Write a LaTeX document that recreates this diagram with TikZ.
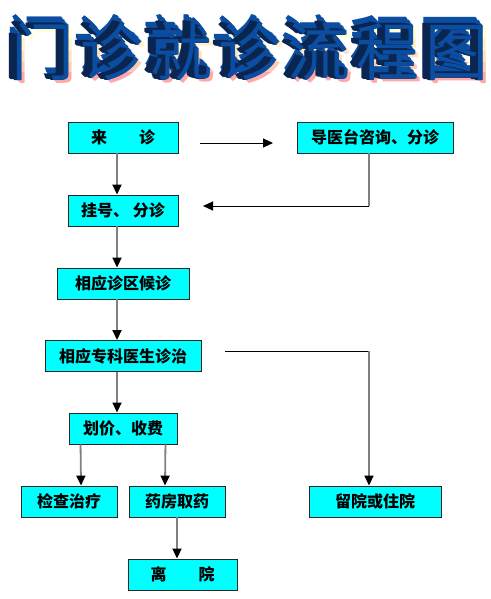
\documentclass[tikz,border=0pt]{standalone}
\usepackage{fontspec}
\newfontfamily\cjk{Noto Sans CJK SC}
\usetikzlibrary{arrows.meta}
\definecolor{boxcyan}{HTML}{00FFFF}
\definecolor{tblue}{HTML}{0B4DA0}
\definecolor{tdark}{HTML}{0A2550}
\definecolor{gline}{HTML}{808080}
\definecolor{tca}{HTML}{FFFFD2}
\definecolor{tcb}{HTML}{FFF2C4}
\definecolor{tcc}{HTML}{FFE0BA}
\definecolor{tcd}{HTML}{FFC8B0}
\definecolor{tce}{HTML}{FFA8A8}
\begin{document}
\begin{tikzpicture}[x=1pt,y=-1pt,
  fbox/.style={draw=black!85, line width=0.9pt, fill=boxcyan, minimum height=31pt, inner sep=0pt, font=\cjk\bfseries\fontsize{16}{16}\selectfont},
  garrow/.style={draw=gline, line width=1.8pt, -{Triangle[length=10pt,width=9pt,color=black,fill=black]}},
  gline/.style={draw=gline, line width=1.8pt},
  barrow/.style={draw=black, line width=0.9pt, -{Triangle[length=10pt,width=9pt]}},
  bline/.style={draw=black, line width=0.9pt},
  tf/.style={font=\cjk\fontsize{63}{63}\selectfont, anchor=base, inner sep=0pt}]
\useasboundingbox[fill=white] (0,0) rectangle (490,599);

% title
\foreach \cx/\ch in {43/门,112/诊,181/就,250/诊,319/流,388/程,457/图}{
  \foreach \ya/\yb/\col in {0/40/tca,40/52/tcb,52/63/tcc,63/73/tcd,73/100/tce}{
    \begin{scope}
      \clip ({\cx-45},\ya) rectangle ({\cx+45},\yb);
      \foreach \t in {3,2,1} \node[tf,text=\col] at ({\cx+0.9*\t},{76+0.9*\t}) {\ch};
    \end{scope}
  }
  \foreach \t in {10,9,...,1} \node[tf,text=tblue] at ({\cx-0.7*\t},{76-0.85*\t}) {\ch};
  \foreach \t in {8,7,...,1} \node[tf,text=tdark] at ({\cx-\t},{76-0.25*\t}) {\ch};
  \node[tf,text=tblue] at (\cx,76) {\ch};
}

% boxes
\node[fbox, minimum width=110pt] (lai) at (123,137.5) {来　　诊};
\node[fbox, minimum width=156pt] (daoyi) at (375,137.5) {导医台咨询、分诊};
\node[fbox, minimum width=110pt] (guahao) at (123,210.5) {挂号、 分诊};
\node[fbox, minimum width=132pt] (houzhen) at (123,283.5) {相应诊区候诊};
\node[fbox, minimum width=156pt] (zhuanke) at (123,356) {相应专科医生诊治};
\node[fbox, minimum width=108pt] (huajia) at (123,428.5) {划价、收费};
\node[fbox, minimum width=96pt] (jiancha) at (69,501.5) {检查治疗};
\node[fbox, minimum width=96pt] (yaofang) at (177,501.5) {药房取药};
\node[fbox, minimum width=132pt] (liuyuan) at (375,501.5) {留院或住院};
\node[fbox, minimum width=109pt] (liyuan) at (182.5,574.5) {离　　院};

% connectors
\draw[garrow] ([xshift=-6pt]lai.south) -- ([xshift=-6pt]guahao.north);
\draw[garrow] ([xshift=-6pt]guahao.south) -- ([xshift=-6pt]houzhen.north);
\draw[garrow] ([xshift=-6pt]houzhen.south) -- ([xshift=-6pt]zhuanke.north);
\draw[garrow] ([xshift=-6pt]zhuanke.south) -- ([xshift=-6pt]huajia.north);
\draw[garrow] ([xshift=12pt]huajia.south west) -- ([xshift=12pt]jiancha.north);
\draw[garrow] ([xshift=-12pt]huajia.south east) -- ([xshift=-12pt]yaofang.north);
\draw[garrow] (yaofang.south) -- (yaofang.south |- liyuan.north);

\coordinate (s0) at (200,143);
\coordinate (e0) at (273,143);
\draw[barrow] (s0) -- (e0);

\coordinate (c1) at (369,206);
\coordinate (e1) at (203,206);
\draw[gline] ([xshift=-6pt]daoyi.south) -- (c1);
\draw[barrow] (c1) -- (e1);

\coordinate (s2) at (225,351);
\coordinate (c2) at (369,351);
\draw[bline] (s2) -- (c2);
\draw[garrow] (c2) -- ([xshift=-6pt]liuyuan.north);
\end{tikzpicture}
\end{document}
